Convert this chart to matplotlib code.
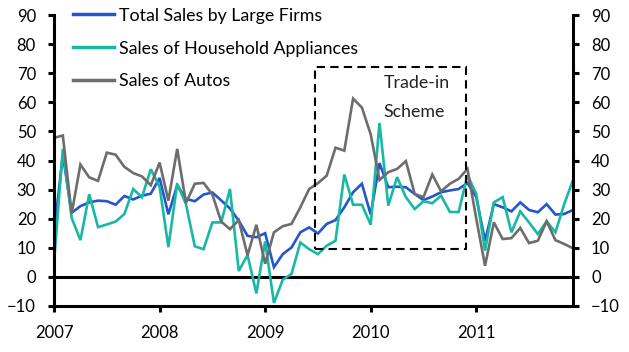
import matplotlib
matplotlib.use("Agg")
import matplotlib.pyplot as plt
from matplotlib.patches import Rectangle
import numpy as np

plt.rcParams['font.family'] = ['Lato', 'DejaVu Sans']

# ---- data (monthly, Jan 2007 - Dec 2011) ----
start_year = 2007
total_sales = [15, 42, 22, 24.3, 25.6, 26.2, 26, 24.8, 27.8, 26.6, 27.9, 28.6,
               34, 21.5, 31.5, 26.8, 26, 28.3, 29, 26.3, 23.5, 19.3, 14.1, 13.6,
               15, 3.3, 7.8, 10.1, 15.3, 17, 14.9, 18.2, 19.5, 23.9, 29.1, 32,
               21.4, 39.1, 30.8, 31, 30.8, 28.5, 26.4, 27.6, 29.1, 29.7, 30.2, 32.3,
               27.4, 12.4, 25, 23.9, 22.5, 25.6, 23, 22.2, 25, 21.4, 21.6, 23]
appliances = [5, 44, 20.3, 12.6, 28.4, 17.1, 18, 19, 21.6, 30.2, 27.4, 37,
              31, 10.2, 32, 25, 10.5, 9.5, 18.7, 18.7, 30.2, 2, 7.5, -5.7,
              12.2, -9, -1, 1, 11.8, 9.5, 7.8, 10.7, 12.4, 35.2, 24.8, 24.8,
              17.9, 52.9, 24.5, 34.3, 27.4, 23.3, 26, 25.3, 27.9, 22.3, 22.3, 35,
              28.5, 9, 25.6, 27.4, 15.3, 22.5, 18.7, 14.7, 19.1, 15.3, 25, 33.3]
autos = [47.8, 48.6, 21.7, 38.6, 34.2, 33, 42.7, 42, 37.8, 35.7, 34.5, 31.5,
         39.3, 26.2, 44, 25.4, 32, 32.3, 28.3, 19, 16.4, 19.5, 7.4, 17.9,
         4.5, 15.3, 17.4, 18.2, 23.9, 30.2, 32.2, 34.8, 44.4, 43.4, 61.3, 58.2,
         49, 33.3, 36, 37.1, 39.8, 28.5, 27.4, 35.2, 29.4, 32, 33.7, 37.1,
         20, 3.8, 18.7, 13, 13.3, 16.8, 11.6, 12.4, 19.1, 12.6, 11.3, 9.8]
series_labels = ["Total Sales by Large Firms", "Sales of Household Appliances", "Sales of Autos"]
year_ticks = [2007, 2008, 2009, 2010, 2011]
y_ticks = [-10, 0, 10, 20, 30, 40, 50, 60, 70, 80, 90]
annotation_text = "Trade-in\nScheme"

colors = ["#2356CC", "#19B8A5", "#6D6D6D"]

x = start_year + np.arange(len(total_sales)) / 12.0

fig = plt.figure(figsize=(6.29, 3.52), dpi=100)
ax = fig.add_axes([0.0859, 0.131, 0.8251, 0.826])

for vals, lab, c in zip([total_sales, appliances, autos], series_labels, colors):
    ax.plot(x, vals, color=c, lw=1.9, label=lab, solid_joinstyle='miter')

ax.axhline(0, color='black', lw=2.2, zorder=1)

# trade-in scheme box
ax.add_patch(Rectangle((2009.47, 9.6), 2010.90 - 2009.47, 72.2 - 9.6,
                       fill=False, edgecolor='black', lw=1.5, linestyle=(0, (4, 2.5)), zorder=5))
ax.text(2010.125, 69.3, annotation_text, ha='left', va='top', fontsize=12.8,
        color='#222222', linespacing=2.0)

ax.set_xlim(x[0], x[-1])
ax.set_ylim(-10, 90)
ax.set_yticks(y_ticks)
ax.set_xticks(year_ticks)
ax.set_xticklabels([str(y) for y in year_ticks])

for s in ['top', 'right']:
    ax.spines[s].set_visible(False)
for s in ['left', 'bottom']:
    ax.spines[s].set_linewidth(2.2)

ax.tick_params(axis='both', direction='out', length=4, width=2.2, labelsize=12, colors='black')
ax.tick_params(axis='y', pad=9)
ax.tick_params(axis='x', pad=10)

ax2 = ax.twinx()
ax2.set_ylim(-10, 90)
ax2.set_yticks(y_ticks)
for s in ['top', 'left', 'bottom']:
    ax2.spines[s].set_visible(False)
ax2.spines['right'].set_linewidth(2.2)
ax2.tick_params(axis='y', direction='out', length=4, width=2.2, labelsize=12, pad=9)

leg = ax.legend(loc='upper left', bbox_to_anchor=(0.022, 1.05), frameon=False, fontsize=12.8,
                handlelength=2.35, handletextpad=0.25, labelspacing=0.95, borderaxespad=0)
for l in leg.get_lines():
    l.set_linewidth(2.5)

fig.savefig("out.png", dpi=100)
